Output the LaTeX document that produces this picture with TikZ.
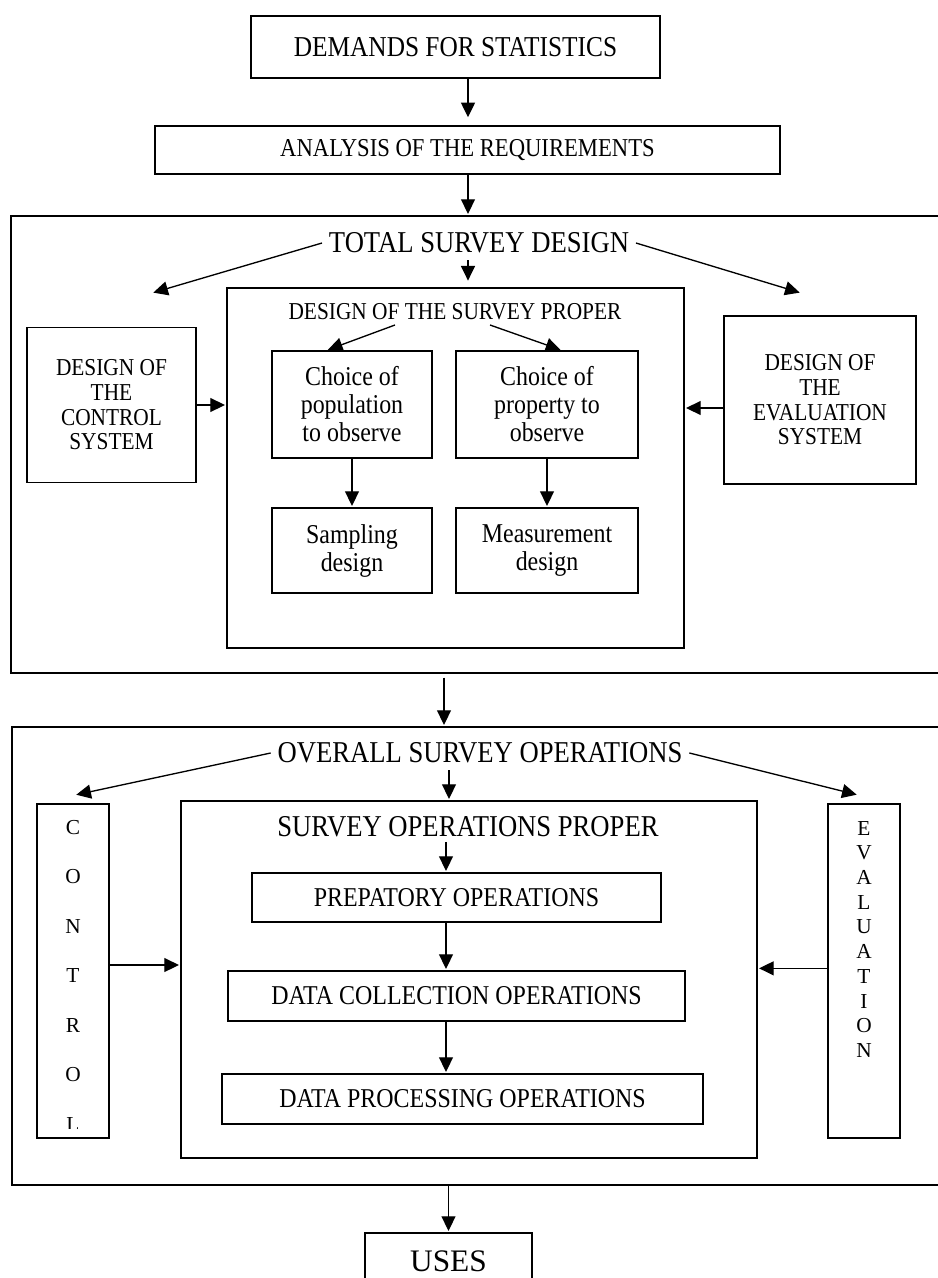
\documentclass[tikz,border=0pt]{standalone}
\usepackage{fontspec}
\setmainfont{Liberation Serif}
\newfontfamily\condfont{Liberation Serif}[FakeStretch=0.88]
\usetikzlibrary{arrows.meta}

\begin{document}
\begin{tikzpicture}[x=0.75pt,y=-0.75pt,
  box/.style={draw,line width=1.1pt,align=center,inner sep=0pt},
  wh/.style 2 args={minimum width=#1*0.75pt,minimum height=#2*0.75pt},
  fs/.style 2 args={font=\condfont\fontsize{#1pt}{#2pt}\selectfont},
  plain/.style 2 args={font=\fontsize{#1pt}{#2pt}\selectfont},
  ttl/.style={inner sep=5pt},
  arw/.style={-{Triangle[length=11pt,width=10.5pt]},line width=1pt,shorten >=1pt}]
  \useasboundingbox (0,0) rectangle (938,1278);
  \clip (0,0) rectangle (938,1278);

  % columns used by the straight arrows
  \coordinate (colA) at (468,0);
  \coordinate (colB) at (444,0);
  \coordinate (colC) at (449,0);
  \coordinate (colD) at (446,0);

  % demands and requirements
  \node[box,wh={409}{62},fs={21.6}{25}] (demands) at (455.5,47) {DEMANDS FOR STATISTICS};
  \node[box,wh={625}{48},fs={19.3}{22}] (analysis) at (467.5,150) {ANALYSIS OF THE REQUIREMENTS};
  \draw[arw] (demands.south -| colA) -- ([yshift=5pt]analysis.north -| colA);

  % total survey design
  \node[box,wh={950}{457}] (design) at (486,444.5) {};
  \node[ttl,fs={22.7}{26}] (tsd) at (479,243) {TOTAL SURVEY DESIGN};
  \draw[arw] (analysis.south -| colA) -- (design.north -| colA);

  \node[box,wh={169}{155},fs={18.2}{18.5}] (ctlds) at (111.5,405) {DESIGN OF\\THE\\CONTROL\\SYSTEM};
  \node[box,wh={192}{168},fs={18.2}{18.5}] (evlds) at (820,400) {DESIGN OF\\THE\\EVALUATION\\SYSTEM};
  \node[box,wh={457}{360}] (proper) at (455.5,468) {};
  \node[fs={18.2}{21}] (dsp) at (455,312) {DESIGN OF THE SURVEY PROPER};

  \node[box,wh={160}{107},fs={20.4}{21}] (pop) at (352,404.5) {Choice of\\population\\to observe};
  \node[box,wh={182}{107},fs={20.4}{21}] (prop) at (547,404.5) {Choice of\\property to\\observe};
  \node[box,wh={160}{85},fs={20.4}{21}] (samp) at (352,550.5) {Sampling\\design};
  \node[box,wh={182}{85},fs={20.4}{21}] (meas) at (547,550.5) {Measurement\\design};

  \coordinate (tsdl) at (152,293);
  \coordinate (tsdr) at (801,293);
  \coordinate (dspl) at (395,325);
  \coordinate (dspr) at (490,325);
  \draw[arw] (tsd.west) -- (tsdl);
  \draw[arw] (tsd.east) -- (tsdr);
  \draw[arw] (tsd.south -| colA) -- ([yshift=4pt]proper.north -| colA);
  \draw[arw] (dspl) -- ([xshift=-19pt]pop.north);
  \draw[arw] (dspr) -- ([xshift=11pt]prop.north);
  \draw[arw] (pop.south) -- (samp.north);
  \draw[arw] (prop.south) -- (meas.north);
  \draw[arw] (ctlds.east) -- (ctlds.east -| proper.west);
  \coordinate (evla) at ([yshift=-6pt]evlds.west);
  \draw[arw] (evla) -- (evla -| proper.east);

  % overall survey operations
  \node[box,wh={950}{458}] (ops) at (487,956) {};
  \draw[arw] ([yshift=-3pt]design.south -| colB) -- (ops.north -| colB);
  \node[ttl,fs={22.7}{26}] (osop) at (480,753) {OVERALL SURVEY OPERATIONS};
  \node[box,wh={72}{334}] (ctrl) at (73,971) {};
  \node[box,wh={72}{334}] (evl) at (864,971) {};
  \node[box,wh={576}{357}] (sopbox) at (469,979.5) {};
  \node[fs={22.7}{26}] (sop) at (468,827) {SURVEY OPERATIONS PROPER};
  \node[box,wh={409}{49},fs={20.4}{23}] (prep) at (456.5,897.5) {PREPATORY OPERATIONS};
  \node[box,wh={457}{50},fs={20.4}{23}] (coll) at (456.5,996) {DATA COLLECTION OPERATIONS};
  \node[box,wh={481}{50},fs={20.4}{23}] (proc) at (462.5,1099) {DATA PROCESSING OPERATIONS};

  \begin{scope}
    \clip (37,804) rectangle (109,1128);
    \foreach \l [count=\i from 0] in {C,O,N,T,R,O,L}
      \node[plain={16}{19}] (c\i) at (73,827.3+49.5*\i) {\l};
  \end{scope}
  \foreach \l [count=\i from 0] in {E,V,A,L,U,A,T,I,O,N}
    \node[plain={16}{19}] (e\i) at (864,828.5+24.65*\i) {\l};

  \coordinate (osopl) at (75,795);
  \coordinate (osopr) at (858,795);
  \draw[arw] (osop.west) -- (osopl);
  \draw[arw] (osop.east) -- (osopr);
  \draw[arw] (osop.south -| colC) -- (sopbox.north -| colC);
  \draw[arw] (sop.south -| colD) -- (prep.north -| colD);
  \draw[arw] (prep.south -| colD) -- (coll.north -| colD);
  \draw[arw] (coll.south -| colD) -- (proc.north -| colD);
  \coordinate (ctla) at ([yshift=4.5pt]ctrl.east);
  \coordinate (evlb) at ([yshift=2pt]evl.west);
  \draw[arw] (ctla) -- (ctla -| sopbox.west);
  \draw[arw] (evlb) -- (evlb -| sopbox.east);

  % uses
  \node[box,wh={167}{56},plain={23.5}{27}] (uses) at (448.5,1261) {USES};
  \draw[arw] (ops.south -| uses.north) -- (uses.north);
\end{tikzpicture}
\end{document}
